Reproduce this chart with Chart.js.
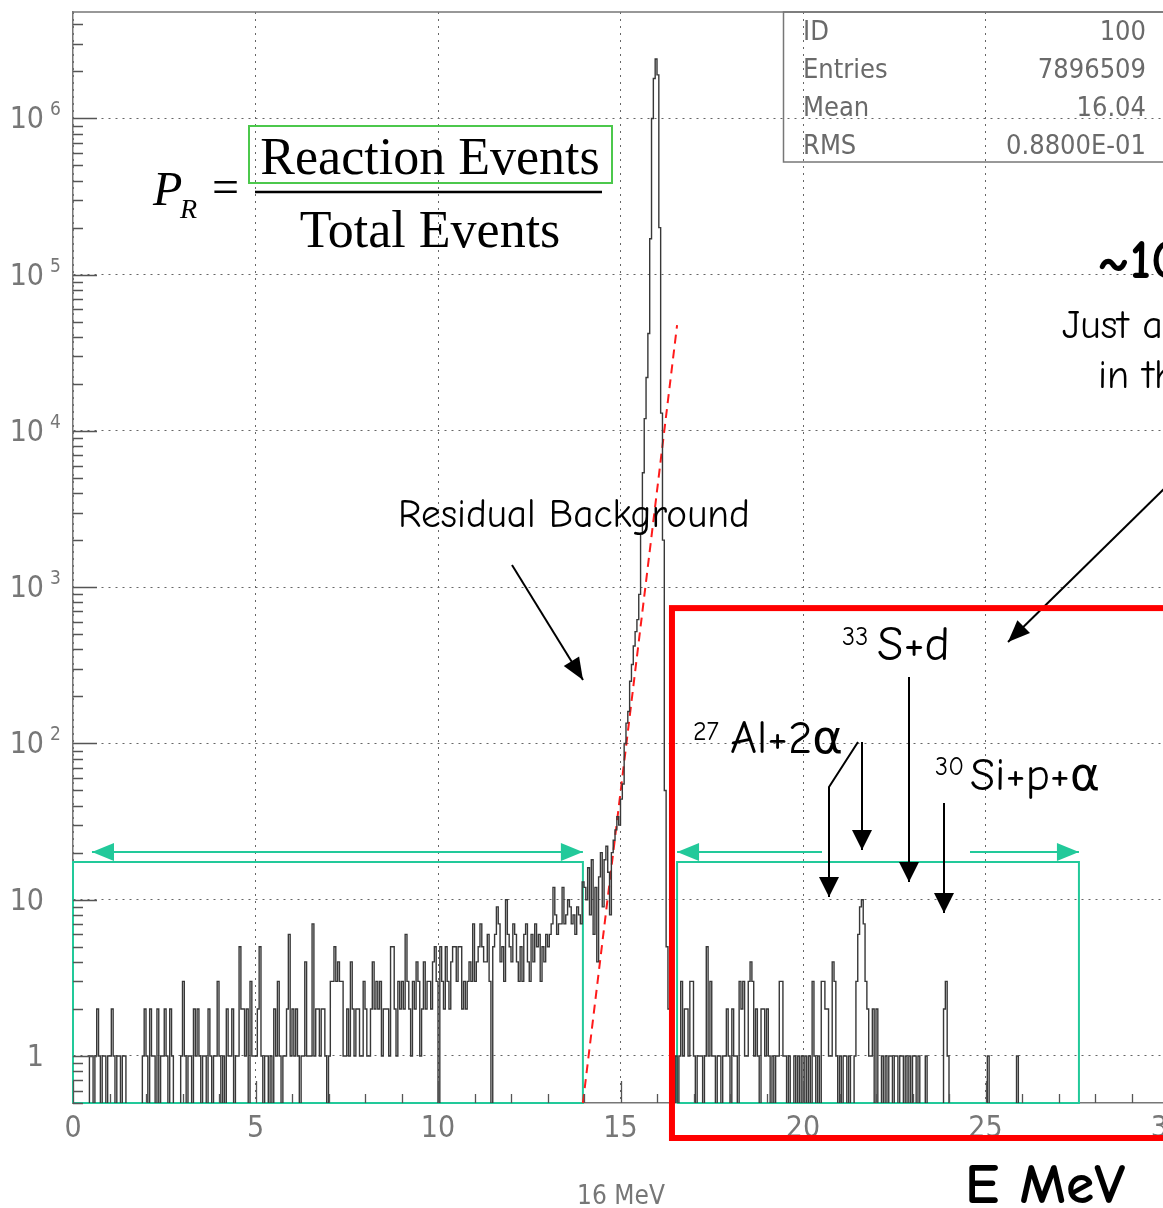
<!DOCTYPE html>
<html>
<head>
<meta charset="utf-8">
<script src="https://cdn.jsdelivr.net/npm/chart.js@4.4.0/dist/chart.umd.min.js"></script>
<style>
  html, body { margin: 0; padding: 0; overflow: hidden; background: #fff; }
  #wrap { position: relative; width: 1230px; height: 1208px; }
</style>
</head>
<body>
<div id="wrap"><canvas id="spectrum"></canvas></div>
<script>
// energy spectrum, 0.05 MeV bins, one row = 1 MeV
var binWidth = 0.05;

var countsLow = [
  0,0,0,0,0,0,0,0,0,1, 1,0,1,2,1,0,1,1,0,1,
  1,2,1,0,1,1,0,1,1,0, 0,0,0,0,0,0,0,0,1,2,
  1,0,2,1,1,0,2,0,1,1, 2,1,0,2,1,0,0,0,0,1,
  3,1,0,1,1,0,2,1,2,1, 0,1,1,0,2,1,0,1,1,3,
  1,0,1,0,2,1,1,2,0,1, 1,5,2,2,1,2,0,3,1,1,
  1,2,5,1,0,1,1,0,1,0, 2,1,3,1,0,1,1,2,6,1,
  2,1,2,1,0,1,1,4,1,1, 1,7,1,2,2,1,2,2,1,0,
  1,3,3,5,3,4,3,3,1,1, 2,1,4,2,1,2,2,1,1,3,
  2,1,1,2,4,2,3,2,3,1, 2,2,2,1,5,5,2,1,3,2,
  3,2,6,3,2,1,3,2,4,3, 1,2,4,2,3,3,2,4,5,3,
  0,5,3,2,5,3,2,4,5,5, 3,5,5,2,3,2,3,4,3,7,
  3,4,5,7,5,4,4,6,3,0, 5,6,9,7,4,5,3,10,6,5,
  4,7,6,4,3,5,3,6,7,4, 3,6,4,7,5,6,3,5,4,6,
  5,6,7,12,8,6,7,7,12,7, 8,10,9,7,8,6,9,8,7,13
];

var countsPeak = [
  12,10,16,8,18,6,12,4,14,20, 9,18,22,15,8,20,24,28,34,30,
  44,55,100,135,160,250,320,420,520,620, 900,2200,5400,12000,22000,42000,170000,1000000,1800000,2400000,
  1900000,200000,13000,2000,50,5,2,1,2,0, 1,0,1,3,1,2,2,1,3,3
];

var countsHigh = [
  1,0,1,1,1,0,1,5,1,3, 1,1,0,1,1,0,1,1,2,1,
  0,2,1,1,0,3,2,3,1,1, 3,4,3,1,2,1,0,2,2,1,
  2,1,0,1,0,1,1,3,3,1, 1,0,1,0,0,1,0,1,0,1,
  0,1,0,1,0,3,1,0,1,0, 3,3,2,2,1,1,4,3,1,0,
  1,0,1,1,0,1,0,0,1,3, 6,9,10,7,3,2,1,1,2,0,
  2,0,0,1,0,1,0,1,1,0, 1,1,0,1,1,0,1,0,1,0,
  1,1,0,1,0,0,0,1,0,0, 0,0,0,0,0,0,0,2,3,1,
  0,0,0,0,0,0,0,0,0,0, 0,0,0,0,0,0,0,0,0,0,
  0,1,0,0,0,0,0,0,0,0, 0,0,0,0,0,0,0,1,0,0,
  0,0,0,0,0,0,0,0,0,0, 0,0,0,0,0,0,0,0,0,0,
  0,0,0,0,0,0,0,0,0,0, 0,0,0,0,0,0,0,0,0,0,
  0,0,0,0,0,0,0,0,0,0, 0,0,0,0,0,0,0,0,0,0,
  0,0,0,0,0,0,0,0,0,0, 0,0,0,0,0,0,0,0,0,0
];

var yDecades = [1, 10, 100, 1000, 10000, 100000, 1000000];
var residualFit = [{x: 13.97, y: 0.5}, {x: 16.55, y: 47500}];
var windowLow = [0, 13.97];
var windowHigh = [16.55, 27.56];
var windowTop = 17.4;
var statsRows = [['ID', '100'], ['Entries', '7896509'], ['Mean', '16.04'], ['RMS', '0.8800E-01']];

// empty bins sit below the log axis floor (clipped at the frame)
var zeroFloor = 0.01;
var counts = countsLow.concat(countsPeak, countsHigh);
var histPoints = counts.map(function (c, i) { return {x: i * binWidth, y: c > 0 ? c : zeroFloor}; });
histPoints.push({x: 30, y: zeroFloor});

function boxPoints(win) {
  return [{x: win[0], y: 0.5}, {x: win[0], y: windowTop}, {x: win[1], y: windowTop},
          {x: win[1], y: 0.5}, {x: win[0], y: 0.5}];
}

var axisFont = "'Liberation Sans Narrow', 'DejaVu Sans Condensed', 'Liberation Sans', sans-serif";
var comicFont = "'Comic Sans MS', 'Comic Neue', 'DejaVu Sans', sans-serif";
var serifFont = "'Liberation Serif', 'DejaVu Serif', serif";
var teal = '#22c99a';

function fitFont(ctx, text, width, style, family) {
  ctx.font = style + ' 100px ' + family;
  var size = 100 * width / ctx.measureText(text).width;
  ctx.font = style + ' ' + size.toFixed(1) + 'px ' + family;
}

function head(ctx, fx, fy, tx, ty, len, half) {
  var ang = Math.atan2(ty - fy, tx - fx);
  ctx.beginPath();
  ctx.moveTo(tx, ty);
  ctx.lineTo(tx - len * Math.cos(ang) + half * Math.sin(ang), ty - len * Math.sin(ang) - half * Math.cos(ang));
  ctx.lineTo(tx - len * Math.cos(ang) - half * Math.sin(ang), ty - len * Math.sin(ang) + half * Math.cos(ang));
  ctx.closePath();
  ctx.fill();
}

function arrow(ctx, pts, len, half) {
  ctx.beginPath();
  ctx.moveTo(pts[0][0], pts[0][1]);
  for (var i = 1; i < pts.length; i++) ctx.lineTo(pts[i][0], pts[i][1]);
  ctx.stroke();
  var a = pts[pts.length - 2], b = pts[pts.length - 1];
  head(ctx, a[0], a[1], b[0], b[1], len, half);
}

var overlay = {
  id: 'overlay',
  afterDraw: function (chart) {
    var ctx = chart.ctx, area = chart.chartArea;
    var xs = chart.scales.x, ys = chart.scales.y;
    ctx.save();

    // frame top / right
    ctx.strokeStyle = '#777';
    ctx.lineWidth = 1.5;
    ctx.beginPath();
    ctx.moveTo(area.left, area.top);
    ctx.lineTo(area.right, area.top);
    ctx.lineTo(area.right, area.bottom);
    ctx.stroke();

    // inward tick marks
    ctx.strokeStyle = '#555';
    ctx.lineWidth = 1.3;
    ctx.beginPath();
    [0.1].concat(yDecades).forEach(function (d) {
      for (var m = 1; m <= 9; m++) {
        var v = d * m;
        if (v < ys.min || v > ys.max) continue;
        var y = Math.round(ys.getPixelForValue(v)) + 0.5;
        ctx.moveTo(area.left, y);
        ctx.lineTo(area.left + (m === 1 ? 24 : 10), y);
      }
    });
    for (var t = 0; t <= 30; t++) {
      var x = Math.round(xs.getPixelForValue(t)) + 0.5;
      ctx.moveTo(x, area.bottom);
      ctx.lineTo(x, area.bottom - (t % 5 === 0 ? 22 : 9));
    }
    ctx.stroke();

    // y tick labels 1, 10, 10^2 ...
    ctx.fillStyle = '#777';
    yDecades.forEach(function (d) {
      var e = Math.round(Math.log10(d));
      var y = ys.getPixelForValue(d);
      ctx.font = '30px ' + axisFont;
      ctx.textAlign = 'right';
      ctx.textBaseline = 'alphabetic';
      ctx.fillText(e === 0 ? '1' : '10', 44, y + 10);
      if (e >= 2) {
        ctx.font = '19px ' + axisFont;
        ctx.textAlign = 'left';
        ctx.fillText(String(e), 50, y - 3);
      }
    });

    // statistics box
    ctx.strokeStyle = '#777';
    ctx.lineWidth = 1.5;
    ctx.strokeRect(783.5, area.top, 600, 150);
    ctx.fillStyle = '#6a6a6a';
    ctx.font = '27px ' + axisFont;
    statsRows.forEach(function (r, i) {
      var by = 40 + i * 38;
      ctx.textAlign = 'left';
      ctx.fillText(r[0], 803, by);
      ctx.textAlign = 'right';
      ctx.fillText(r[1], 1146, by);
    });

    // x axis note
    ctx.fillStyle = '#777';
    ctx.font = '26px ' + axisFont;
    ctx.textAlign = 'center';
    ctx.fillText('16 MeV', 621, 1204);

    // formula
    ctx.fillStyle = '#000';
    ctx.textAlign = 'left';
    ctx.font = 'italic 48px ' + serifFont;
    ctx.fillText('P', 153, 205);
    ctx.font = 'italic 28px ' + serifFont;
    ctx.fillText('R', 180, 218);
    ctx.font = '48px ' + serifFont;
    ctx.fillText('=', 212, 203);
    ctx.textAlign = 'center';
    ctx.font = '52px ' + serifFont;
    ctx.fillText('Reaction Events', 430, 174);
    ctx.fillText('Total Events', 430, 247);
    ctx.lineWidth = 2.5;
    ctx.strokeStyle = '#000';
    ctx.beginPath();
    ctx.moveTo(255, 192);
    ctx.lineTo(602, 192);
    ctx.stroke();
    ctx.strokeStyle = '#4cc84c';
    ctx.lineWidth = 2;
    ctx.strokeRect(249, 126, 363, 57);

    // comic-style annotations
    ctx.fillStyle = '#000';
    ctx.textAlign = 'left';
    fitFont(ctx, 'Residual Background', 352, 'normal', comicFont);
    ctx.fillText('Residual Background', 398, 527);

    ctx.font = '26px ' + comicFont;
    ctx.fillText('33', 842, 645);
    ctx.fillText('27', 693, 740);
    ctx.fillText('30', 935, 775);
    fitFont(ctx, 'S+d', 73, 'normal', comicFont);
    ctx.fillText('S+d', 877, 660);
    fitFont(ctx, 'Al+2\u03b1', 113, 'normal', comicFont);
    ctx.fillText('Al+2\u03b1', 730, 753);
    fitFont(ctx, 'Si+p+\u03b1', 130, 'normal', comicFont);
    ctx.fillText('Si+p+\u03b1', 970, 790);

    ctx.font = 'bold 54px ' + comicFont;
    ctx.fillText('~10\u207b\u2076', 1097, 278);
    ctx.font = '40px ' + comicFont;
    ctx.fillText('Just a few events', 1062, 338);
    ctx.fillText('in the window', 1098, 388);

    fitFont(ctx, 'E MeV', 160, 'bold', comicFont);
    ctx.fillText('E MeV', 965, 1203);

    // black arrows
    ctx.strokeStyle = '#000';
    ctx.fillStyle = '#000';
    ctx.lineWidth = 2;
    arrow(ctx, [[512, 565], [583, 680]], 22, 9);
    arrow(ctx, [[1170, 483], [1008, 642]], 22, 9);
    arrow(ctx, [[858, 742], [829, 787], [829, 897]], 20, 10);
    arrow(ctx, [[862, 742], [862, 850]], 20, 10);
    arrow(ctx, [[909, 677], [909, 882]], 20, 10);
    arrow(ctx, [[944, 803], [944, 913]], 20, 10);

    // teal window arrows
    var ay = ys.getPixelForValue(windowTop) - 10;
    var l0 = xs.getPixelForValue(0.52), l1 = xs.getPixelForValue(windowLow[1]);
    var r0 = xs.getPixelForValue(windowHigh[0]), r1 = xs.getPixelForValue(windowHigh[1]);
    ctx.strokeStyle = teal;
    ctx.fillStyle = teal;
    ctx.lineWidth = 2;
    ctx.beginPath();
    ctx.moveTo(l0, ay); ctx.lineTo(l1, ay);
    ctx.moveTo(r0, ay); ctx.lineTo(822, ay);
    ctx.moveTo(970, ay); ctx.lineTo(r1, ay);
    ctx.stroke();
    head(ctx, l1, ay, l0, ay, 22, 9);
    head(ctx, l0, ay, l1, ay, 22, 9);
    head(ctx, r1, ay, r0, ay, 22, 9);
    head(ctx, r0, ay, r1, ay, 22, 9);

    // red signal region
    ctx.strokeStyle = '#ff0000';
    ctx.lineWidth = 6;
    var rx = xs.getPixelForValue(16.41);
    var ry = ys.getPixelForValue(735);
    ctx.strokeRect(rx, ry, 700, area.bottom + 35 - ry);

    ctx.restore();
  }
};

var gridStyle = {color: '#666', lineWidth: 1, drawTicks: false};
var borderStyle = {display: true, color: '#777', width: 1.5, dash: [2, 5]};

new Chart(document.getElementById('spectrum').getContext('2d'), {
  type: 'line',
  data: {
    datasets: [{
      data: histPoints,
      borderColor: '#383838',
      borderWidth: 1.4,
      pointRadius: 0,
      stepped: true,
      fill: false
    }, {
      data: residualFit,
      borderColor: '#ff1a1a',
      borderWidth: 2,
      borderDash: [9, 6],
      pointRadius: 0,
      fill: false
    }, {
      data: boxPoints(windowLow),
      borderColor: teal,
      borderWidth: 2,
      pointRadius: 0,
      fill: false,
      clip: false
    }, {
      data: boxPoints(windowHigh),
      borderColor: teal,
      borderWidth: 2,
      pointRadius: 0,
      fill: false,
      clip: false
    }]
  },
  options: {
    animation: false,
    responsive: true,
    maintainAspectRatio: false,
    devicePixelRatio: 1,
    layout: {padding: {top: 12, left: 0, right: 62, bottom: 55}},
    plugins: {legend: {display: false}, tooltip: {enabled: false}},
    scales: {
      x: {
        type: 'linear',
        min: 0,
        max: 30,
        ticks: {stepSize: 5, color: '#777', padding: 8, maxRotation: 0, font: {family: axisFont, size: 30}},
        grid: gridStyle,
        border: borderStyle,
        afterFit: function (s) { s.height = 50; }
      },
      y: {
        type: 'logarithmic',
        min: 0.5,
        max: 4.8e6,
        ticks: {display: false},
        grid: gridStyle,
        border: borderStyle,
        afterBuildTicks: function (s) { s.ticks = yDecades.map(function (v) { return {value: v}; }); },
        afterFit: function (s) { s.width = 73; }
      }
    }
  },
  plugins: [overlay]
});
</script>
</body>
</html>
